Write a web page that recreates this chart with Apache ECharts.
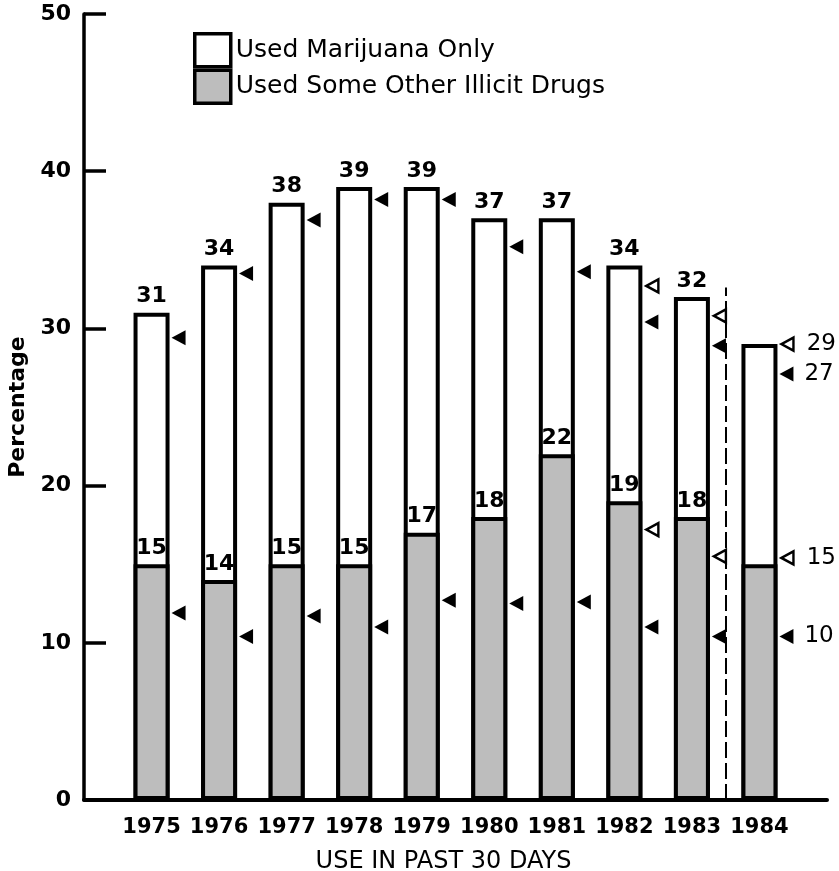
<!DOCTYPE html>
<html>
<head>
<meta charset="utf-8">
<script src="https://cdn.jsdelivr.net/npm/echarts@6/dist/echarts.min.js"></script>
<style>
html,body{margin:0;padding:0;background:#fff;}
#chart{width:839px;height:871px;}
</style>
</head>
<body>
<div id="chart"></div>
<script>
// ---- data ----
const years = ['1975','1976','1977','1978','1979','1980','1981','1982','1983','1984'];
const anyIllicit = [31, 34, 38, 39, 39, 37, 37, 34, 32, 29];       // bar totals (top of white part)
const otherIllicit = [15, 14, 15, 15, 17, 18, 22, 19, 18, 15];     // gray part
const filledUpper = [29.4, 33.5, 36.9, 38.2, 38.2, 35.2, 33.6, 30.4, 28.9, 27.1];
const filledLower = [11.9, 10.4, 11.7, 11.0, 12.7, 12.5, 12.6, 11.0, 10.4, 10.4];
const openUpper = [null, null, null, null, null, null, null, 32.7, 30.8, 29.0];
const openLower = [null, null, null, null, null, null, null, 17.2, 15.5, 15.4];
const dividerX = 8.5;
const dividerTop = 32.6;
const yTicks = [0, 10, 20, 30, 40, 50];

const FONT = 'DejaVu Sans';
const lastIdx = years.length - 1;
const leftTri = 'path://M0,5 L10,0 L10,10 Z';

function pts(arr) {
  const out = [];
  arr.forEach((v, i) => { if (v !== null) out.push([i, v]); });
  return out;
}

const chart = echarts.init(document.getElementById('chart'), null, {renderer: 'canvas'});
const option = {
  animation: false,
  backgroundColor: '#fff',
  grid: {left: 84, right: 12, top: 14, bottom: 71, containLabel: false, outerBoundsMode: 'none'},
  legend: {
    orient: 'vertical',
    left: 193, top: 32, padding: 0,
    itemWidth: 36, itemHeight: 33, itemGap: 0,
    icon: 'rect',
    selectedMode: false,
    textStyle: {fontFamily: FONT, fontSize: 25, color: '#000'},
    data: [
      {name: 'Used Marijuana Only', itemStyle: {color: '#fff', borderColor: '#000', borderWidth: 3.5}},
      {name: 'Used Some Other Illicit Drugs', itemStyle: {color: '#bdbdbd', borderColor: '#000', borderWidth: 3.5}}
    ]
  },
  xAxis: {
    type: 'value', min: -1, max: 10, interval: 1,
    name: 'USE IN PAST 30 DAYS', nameLocation: 'middle', nameGap: 50,
    nameTextStyle: {fontFamily: FONT, fontSize: 24, color: '#000', padding: [0, 24, 0, 0]},
    axisLine: {show: true, onZero: false, lineStyle: {color: '#000', width: 4}},
    axisTick: {show: false},
    splitLine: {show: false},
    axisLabel: {
      margin: 17, fontFamily: FONT, fontWeight: 'bold', fontSize: 21, color: '#000',
      formatter: v => (years[v] !== undefined ? years[v] : '')
    }
  },
  yAxis: {
    type: 'value', min: yTicks[0], max: yTicks[yTicks.length - 1], interval: 10,
    name: 'Percentage', nameLocation: 'middle', nameGap: 53,
    nameTextStyle: {fontFamily: FONT, fontSize: 22, fontWeight: 'bold', color: '#000'},
    axisLine: {show: true, onZero: false, lineStyle: {color: '#000', width: 3.5}},
    axisTick: {show: true, inside: true, length: 22, lineStyle: {color: '#000', width: 3.5}},
    splitLine: {show: false},
    axisLabel: {margin: 13, fontFamily: FONT, fontWeight: 'bold', fontSize: 22, color: '#000'}
  },
  series: [
    {
      name: 'Used Marijuana Only', type: 'bar', barWidth: 36, barGap: '-100%',
      data: anyIllicit.map((v, i) => [i, v]),
      itemStyle: {color: '#fff', borderColor: '#000', borderWidth: 4},
      label: {
        show: true, position: 'top', distance: 5,
        fontFamily: FONT, fontWeight: 'bold', fontSize: 22, color: '#000',
        formatter: p => (p.dataIndex === lastIdx ? '' : String(p.value[1]))
      },
      markLine: {
        silent: true, symbol: 'none', label: {show: false},
        lineStyle: {color: '#000', width: 2, type: [16, 5]},
        data: [[{coord: [dividerX, 0]}, {coord: [dividerX, dividerTop]}]]
      },
      z: 2
    },
    {
      name: 'Used Some Other Illicit Drugs', type: 'bar', barWidth: 36, barGap: '-100%',
      data: otherIllicit.map((v, i) => [i, v]),
      itemStyle: {color: '#bdbdbd', borderColor: '#000', borderWidth: 4},
      label: {
        show: true, position: 'top', distance: 5,
        fontFamily: FONT, fontWeight: 'bold', fontSize: 22, color: '#000',
        formatter: p => (p.dataIndex === lastIdx ? '' : String(p.value[1]))
      },
      z: 3
    },
    {
      name: 'filled', type: 'scatter',
      data: pts(filledUpper).concat(pts(filledLower)),
      symbol: leftTri, symbolSize: [14, 15], symbolOffset: [27, 0],
      itemStyle: {color: '#000', opacity: 1},
      label: {
        show: true, position: 'right', distance: 11,
        fontFamily: FONT, fontSize: 23, color: '#000',
        formatter: p => (p.value[0] === lastIdx ? String(Math.round(p.value[1])) : '')
      },
      z: 5
    },
    {
      name: 'open', type: 'scatter',
      data: pts(openUpper).concat(pts(openLower)),
      symbol: leftTri, symbolSize: [12, 13], symbolOffset: [28, 0],
      itemStyle: {color: '#fff', borderColor: '#000', borderWidth: 2.5, opacity: 1},
      label: {
        show: true, position: 'right', distance: 12,
        fontFamily: FONT, fontSize: 23, color: '#000',
        formatter: p => (p.value[0] === lastIdx ? String(Math.round(p.value[1])) : '')
      },
      z: 5
    }
  ]
};
chart.setOption(option);
</script>
</body>
</html>
